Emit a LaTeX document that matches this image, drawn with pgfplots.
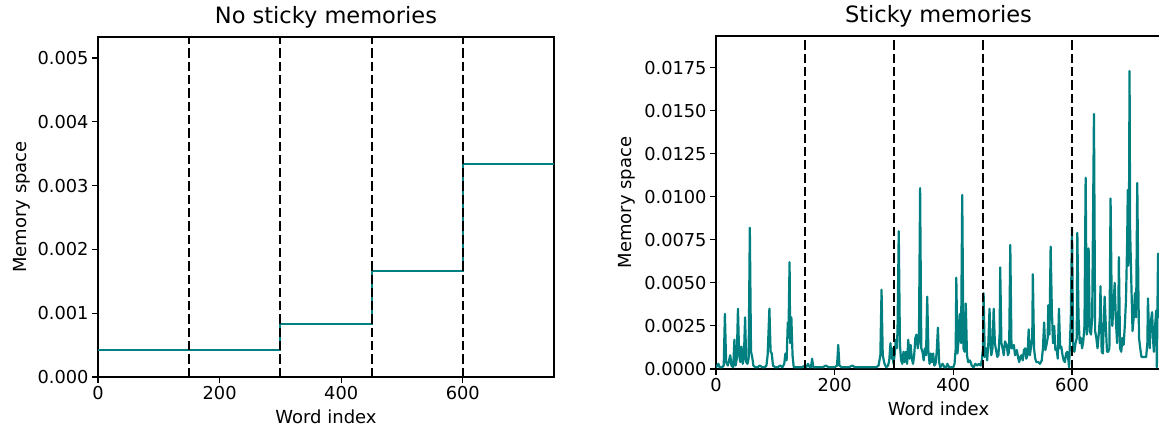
\documentclass[border=0pt]{standalone}
\usepackage{pgfplots}
\pgfplotsset{compat=1.18}
\usepackage{fontspec}
\setmainfont{DejaVu Sans}
\definecolor{teal}{HTML}{008080}
\begin{document}
\begin{tikzpicture}
\useasboundingbox (0bp,0bp) rectangle (1159bp,427bp);
\pgfplotsset{
  every axis/.append style={
    scale only axis,
    font=\fontsize{17.8bp}{21bp}\selectfont,
    tick align=outside,
    tick pos=left,
    major tick length=5.9bp,
    every tick/.style={black,line width=1.1bp},
    axis line style={line width=1.1bp},
    xmin=0, xmax=750, ymin=0,
    xtick={0,200,400,600},
    xticklabels={0,200,400,600},
    scaled y ticks=false,
    title style={font=\fontsize{22.5bp}{26bp}\selectfont, anchor=base},
    xlabel style={anchor=base, font=\fontsize{18bp}{21bp}\selectfont},
    ylabel style={anchor=center, rotate=0, font=\fontsize{18bp}{21bp}\selectfont},
    clip=true,
  },
  vline/.style={black, line width=2bp, dash pattern=on 9.3bp off 4bp},
}
\begin{axis}[
  at={(98bp,50bp)}, anchor=south west,
  width=456bp, height=340bp,
  ymax=0.00533,
  ytick={0,0.001,0.002,0.003,0.004,0.005},
  yticklabels={0.000,0.001,0.002,0.003,0.004,0.005},
  title={No sticky memories},
  title style={at={(axis description cs:0.5,1.022)}},
  xlabel={Word index},
  xlabel style={at={(axis description cs:0.5,-0.138)}},
  ylabel={Memory space},
  ylabel style={at={(axis description cs:-0.167,0.5)}},
]
\addplot[teal, line width=2bp] coordinates {
(0,0.0004167)(300,0.0004167)(300,0.0008333)(450,0.0008333)(450,0.0016667)(600,0.0016667)(600,0.0033333)(750,0.0033333)};
\addplot[vline] coordinates {(150,0)(150,0.00533)};
\addplot[vline] coordinates {(300,0)(300,0.00533)};
\addplot[vline] coordinates {(450,0)(450,0.00533)};
\addplot[vline] coordinates {(600,0)(600,0.00533)};
\end{axis}
\begin{axis}[
  at={(716bp,58bp)}, anchor=south west,
  width=445bp, height=333bp,
  ymax=0.01933,
  ytick={0,0.0025,0.005,0.0075,0.01,0.0125,0.015,0.0175},
  yticklabels={0.0000,0.0025,0.0050,0.0075,0.0100,0.0125,0.0150,0.0175},
  title={Sticky memories},
  title style={at={(axis description cs:0.5,1.022)}},
  xlabel={Word index},
  xlabel style={at={(axis description cs:0.5,-0.141)}},
  ylabel={Memory space},
  ylabel style={at={(axis description cs:-0.2007,0.5)}},
]
\addplot[teal, line width=2.2bp, line join=round] table[row sep=\\] {
x y\\
0 0.0001\\ 2 0.0002\\ 4 0.0003\\ 6 0.0001\\ 10 0.0001\\ 13 0.0002\\ 15 0.0032\\ 17 0.0004\\
20 0.0002\\ 22 0.0005\\ 24 0.0008\\ 26 0.0002\\ 29 0.0001\\ 31 0.0017\\ 33 0.0002\\ 35 0.0006\\
37 0.0035\\ 39 0.0008\\ 41 0.0004\\ 43 0.0013\\ 45 0.0003\\ 47 0.0006\\ 49 0.0030\\ 51 0.0004\\
53 0.0003\\ 55 0.0006\\ 57 0.0082\\ 59 0.0010\\ 61 0.0007\\ 63 0.0002\\ 66 0.0001\\ 70 0.0001\\
74 0.0002\\ 78 0.0001\\ 82 0.0001\\ 85 0.0002\\ 87 0.0008\\ 90 0.0035\\ 92 0.0010\\ 94 0.0009\\
96 0.0002\\ 100 0.0001\\ 104 0.0001\\ 108 0.0002\\ 112 0.0001\\ 115 0.0003\\ 117 0.0009\\ 119 0.0005\\
121 0.0027\\ 122 0.0018\\ 124 0.0062\\ 125 0.0015\\ 127 0.0030\\ 129 0.0008\\ 131 0.0001\\ 135 0.0001\\
140 0.0001\\ 145 0.0001\\ 150 0.0002\\ 152 0.0001\\ 155 0.0003\\ 158 0.0001\\ 160 0.0001\\ 162 0.0006\\
164 0.0001\\ 168 0.0001\\ 175 0.0001\\ 180 0.0001\\ 185 0.0002\\ 190 0.0001\\ 195 0.0001\\ 200 0.0001\\
204 0.0002\\ 206 0.0014\\ 208 0.0002\\ 212 0.0001\\ 218 0.0001\\ 224 0.0001\\ 230 0.0002\\ 234 0.0001\\
240 0.0001\\ 246 0.0001\\ 252 0.0001\\ 258 0.0001\\ 264 0.0001\\ 270 0.0001\\ 274 0.0002\\ 277 0.0008\\
279 0.0046\\ 281 0.0008\\ 284 0.0003\\ 287 0.0001\\ 290 0.0002\\ 292 0.0005\\ 294 0.0015\\ 296 0.0006\\
298 0.0012\\ 299 0.0003\\ 301 0.0008\\ 303 0.0017\\ 305 0.0012\\ 306 0.0024\\ 308 0.0080\\ 310 0.0014\\
312 0.0005\\ 314 0.0003\\ 316 0.0010\\ 318 0.0004\\ 320 0.0010\\ 322 0.0003\\ 324 0.0017\\ 326 0.0006\\
328 0.0014\\ 330 0.0006\\ 332 0.0003\\ 334 0.0008\\ 336 0.0018\\ 338 0.0020\\ 340 0.0012\\ 342 0.0016\\
344 0.0105\\ 346 0.0012\\ 348 0.0010\\ 350 0.0005\\ 352 0.0012\\ 354 0.0008\\ 356 0.0042\\ 358 0.0010\\
360 0.0003\\ 362 0.0009\\ 364 0.0004\\ 366 0.0009\\ 368 0.0002\\ 370 0.0003\\ 372 0.0010\\ 374 0.0024\\
376 0.0004\\ 378 0.0001\\ 382 0.0003\\ 385 0.0001\\ 388 0.0001\\ 390 0.0003\\ 393 0.0001\\ 397 0.0001\\
400 0.0001\\ 402 0.0003\\ 404 0.0012\\ 405 0.0053\\ 407 0.0009\\ 409 0.0018\\ 411 0.0032\\ 413 0.0015\\
415 0.0101\\ 417 0.0012\\ 419 0.0010\\ 421 0.0038\\ 423 0.0008\\ 425 0.0004\\ 428 0.0005\\ 431 0.0002\\
434 0.0001\\ 437 0.0003\\ 440 0.0002\\ 443 0.0003\\ 446 0.0002\\ 448 0.0005\\ 450 0.0012\\ 451 0.0044\\
453 0.0007\\ 455 0.0012\\ 457 0.0005\\ 459 0.0015\\ 461 0.0035\\ 463 0.0013\\ 464 0.0008\\ 466 0.0012\\
468 0.0035\\ 470 0.0015\\ 472 0.0011\\ 474 0.0007\\ 476 0.0008\\ 478 0.0020\\ 479 0.0059\\ 481 0.0015\\
483 0.0012\\ 485 0.0008\\ 487 0.0016\\ 490 0.0014\\ 492 0.0008\\ 494 0.0010\\ 496 0.0072\\ 498 0.0012\\
500 0.0012\\ 502 0.0014\\ 504 0.0008\\ 507 0.0011\\ 509 0.0007\\ 511 0.0004\\ 513 0.0007\\ 515 0.0008\\
517 0.0005\\ 519 0.0011\\ 521 0.0012\\ 523 0.0006\\ 525 0.0008\\ 527 0.0023\\ 529 0.0008\\ 531 0.0013\\
533 0.0018\\ 534 0.0055\\ 536 0.0012\\ 538 0.0006\\ 540 0.0004\\ 543 0.0004\\ 546 0.0003\\ 549 0.0005\\
551 0.0012\\ 553 0.0027\\ 555 0.0011\\ 557 0.0014\\ 559 0.0018\\ 560 0.0037\\ 562 0.0020\\ 564 0.0071\\
566 0.0035\\ 568 0.0015\\ 570 0.0025\\ 572 0.0011\\ 574 0.0012\\ 576 0.0006\\ 578 0.0035\\ 580 0.0012\\
582 0.0013\\ 584 0.0008\\ 586 0.0005\\ 588 0.0004\\ 590 0.0009\\ 592 0.0010\\ 594 0.0005\\ 595 0.0001\\
596 0.0010\\ 598 0.0030\\ 600 0.0082\\ 602 0.0012\\ 604 0.0010\\ 606 0.0015\\ 608 0.0018\\ 609 0.0079\\
611 0.0030\\ 613 0.0015\\ 615 0.0018\\ 617 0.0012\\ 619 0.0016\\ 621 0.0025\\ 623 0.0111\\ 625 0.0020\\
626 0.0028\\ 628 0.0070\\ 630 0.0022\\ 632 0.0020\\ 634 0.0030\\ 637 0.0148\\ 639 0.0022\\ 641 0.0018\\
643 0.0012\\ 645 0.0020\\ 647 0.0030\\ 648 0.0048\\ 650 0.0010\\ 652 0.0009\\ 655 0.0042\\ 657 0.0025\\
659 0.0010\\ 661 0.0010\\ 663 0.0012\\ 665 0.0099\\ 667 0.0035\\ 668 0.0025\\ 670 0.0038\\ 672 0.0050\\
674 0.0028\\ 676 0.0015\\ 678 0.0030\\ 679 0.0065\\ 681 0.0012\\ 683 0.0010\\ 685 0.0018\\ 687 0.0014\\
689 0.0025\\ 691 0.0040\\ 693 0.0075\\ 694 0.0104\\ 695 0.0060\\ 696 0.0090\\ 697 0.0173\\ 698 0.0080\\
700 0.0050\\ 702 0.0022\\ 704 0.0030\\ 706 0.0044\\ 708 0.0030\\ 710 0.0108\\ 712 0.0042\\ 713 0.0018\\
715 0.0012\\ 717 0.0007\\ 720 0.0007\\ 723 0.0007\\ 725 0.0007\\ 727 0.0015\\ 728 0.0041\\ 730 0.0020\\
731 0.0012\\ 733 0.0028\\ 735 0.0033\\ 737 0.0015\\ 738 0.0010\\ 740 0.0025\\ 742 0.0034\\ 743 0.0001\\
745 0.0067\\ 747 0.0030\\ 749 0.0034\\
};
\addplot[vline] coordinates {(150,0)(150,0.01933)};
\addplot[vline] coordinates {(300,0)(300,0.01933)};
\addplot[vline] coordinates {(450,0)(450,0.01933)};
\addplot[vline] coordinates {(600,0)(600,0.01933)};
\end{axis}
\end{tikzpicture}
\end{document}
